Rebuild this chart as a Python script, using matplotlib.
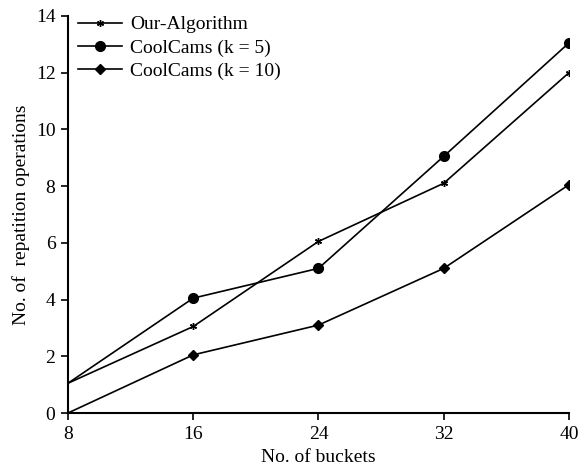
import matplotlib; matplotlib.use("Agg")
import matplotlib.pyplot as plt
plt.rcParams.update({"font.family":["Liberation Serif","DejaVu Serif"],"font.size":14})

buckets=[8,16,24,32,40]
ours=[1.05,3.05,6.05,8.1,12.0]
cool5=[1.05,4.05,5.1,9.05,13.05]
cool10=[0.0,2.05,3.1,5.1,8.05]

fig=plt.figure(figsize=(5.83,4.68),dpi=100)
ax=fig.add_axes([0.1166,0.1175,0.8594,0.8485])
mk=[1,2,3,4]  # no markers at x=8 in the original
ax.plot(buckets,ours,"-",marker=(6,2,0),color="black",ms=5,mew=1.0,lw=1.2,markevery=mk,label="Our-Algorithm")
ax.plot(buckets,cool5,"-o",color="black",ms=7,lw=1.2,markevery=mk,label="CoolCams (k = 5)")
ax.plot(buckets,cool10,"-D",color="black",ms=5,lw=1.2,markevery=mk,label="CoolCams (k = 10)")
ax.set_xlim(8,40); ax.set_ylim(0,14)
ax.set_xticks(buckets); ax.set_yticks(range(0,15,2))
for s in ["top","right"]: ax.spines[s].set_visible(False)
for s in ["left","bottom"]: ax.spines[s].set_linewidth(1.5)
ax.tick_params(direction="out",length=5,width=1.2,labelsize=14,pad=4)
ax.set_xlabel("No. of buckets",labelpad=5)
ax.set_ylabel("No. of  repatition operations",labelpad=4)
ax.legend(loc="upper left",bbox_to_anchor=(0.0,1.025),frameon=False,handlelength=2.3,handletextpad=0.4,
          borderaxespad=0.1,labelspacing=0.3,fontsize=14)
fig.savefig("out.png",dpi=100)
